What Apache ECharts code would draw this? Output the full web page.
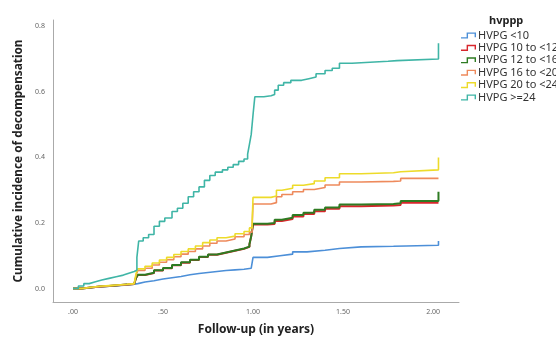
<!DOCTYPE html>
<html>
<head>
<meta charset="utf-8">
<script src="https://cdn.jsdelivr.net/npm/echarts@6/dist/echarts.min.js"></script>
<style>
  html, body { margin: 0; padding: 0; background: #fff; }
  #chart { width: 556px; height: 341px; }
</style>
</head>
<body>
<div id="chart"></div>
<script>
// group names (legend order)
const groupNames = ['HVPG <10', 'HVPG 10 to <12', 'HVPG 12 to <16', 'HVPG 16 to <20', 'HVPG 20 to <24', 'HVPG >=24']
const groupColors = ['#4c8fd8', '#d8262c', '#2e7b22', '#ee8a5c', '#eddb2a', '#3fb5a6']

// cumulative incidence step curves, [years, incidence]
const hvpgLt10 = [
  [0, 0], [0.05, 0.003], [0.1, 0.005], [0.15, 0.007], [0.2, 0.009], [0.25, 0.011], [0.3, 0.013],
  [0.34, 0.015], [0.36, 0.02], [0.4, 0.024], [0.45, 0.029], [0.5, 0.033], [0.55, 0.037], [0.6, 0.042],
  [0.65, 0.046], [0.7, 0.049], [0.75, 0.052], [0.8, 0.055], [0.85, 0.057], [0.9, 0.059], [0.95, 0.062],
  [0.99, 0.064], [1.0, 0.095], [1.08, 0.1], [1.15, 0.105], [1.22, 0.112], [1.3, 0.117], [1.4, 0.122],
  [1.48, 0.127], [1.6, 0.129], [1.78, 0.13], [1.85, 0.132], [2.03, 0.134], [2.03, 0.145]
]
const hvpg10to12 = [
  [0, 0], [0.05, 0.003], [0.1, 0.006], [0.15, 0.008], [0.2, 0.01], [0.25, 0.012], [0.3, 0.014],
  [0.34, 0.017], [0.35, 0.032], [0.36, 0.041], [0.4, 0.047], [0.45, 0.055], [0.5, 0.062], [0.55, 0.071],
  [0.6, 0.079], [0.65, 0.087], [0.7, 0.096], [0.75, 0.103], [0.8, 0.109], [0.85, 0.115], [0.9, 0.121],
  [0.95, 0.127], [0.98, 0.134], [0.99, 0.16], [1.0, 0.195], [1.08, 0.197], [1.12, 0.206], [1.16, 0.212],
  [1.22, 0.22], [1.28, 0.227], [1.34, 0.236], [1.4, 0.243], [1.48, 0.251], [1.6, 0.253], [1.78, 0.255],
  [1.82, 0.262], [2.03, 0.263]
]
const hvpg12to16 = [
  [0, 0], [0.05, 0.003], [0.1, 0.006], [0.15, 0.008], [0.2, 0.01], [0.25, 0.012], [0.3, 0.014],
  [0.34, 0.017], [0.35, 0.032], [0.36, 0.042], [0.4, 0.048], [0.45, 0.056], [0.5, 0.063], [0.55, 0.072],
  [0.6, 0.08], [0.65, 0.088], [0.7, 0.097], [0.75, 0.104], [0.8, 0.11], [0.85, 0.116], [0.9, 0.122],
  [0.95, 0.128], [0.98, 0.135], [0.99, 0.16], [1.0, 0.198], [1.08, 0.2], [1.12, 0.21], [1.16, 0.216],
  [1.22, 0.224], [1.28, 0.231], [1.34, 0.24], [1.4, 0.247], [1.48, 0.256], [1.6, 0.258], [1.78, 0.26],
  [1.82, 0.267], [2.03, 0.27], [2.03, 0.295]
]
const hvpg16to20 = [
  [0, 0], [0.05, 0.003], [0.1, 0.006], [0.15, 0.008], [0.2, 0.01], [0.25, 0.012], [0.3, 0.014],
  [0.34, 0.016], [0.35, 0.04], [0.36, 0.055], [0.4, 0.062], [0.44, 0.072], [0.48, 0.08], [0.52, 0.088],
  [0.56, 0.097], [0.6, 0.105], [0.64, 0.113], [0.68, 0.121], [0.72, 0.13], [0.76, 0.138], [0.8, 0.145],
  [0.85, 0.151], [0.9, 0.158], [0.95, 0.165], [0.98, 0.172], [0.995, 0.19], [1.0, 0.258], [1.1, 0.262],
  [1.13, 0.28], [1.16, 0.287], [1.22, 0.295], [1.28, 0.302], [1.34, 0.308], [1.4, 0.316], [1.48, 0.325],
  [1.6, 0.327], [1.78, 0.328], [1.82, 0.336], [2.03, 0.338]
]
const hvpg20to24 = [
  [0, 0], [0.05, 0.004], [0.1, 0.007], [0.15, 0.009], [0.2, 0.011], [0.25, 0.013], [0.3, 0.015],
  [0.34, 0.018], [0.35, 0.045], [0.36, 0.06], [0.4, 0.068], [0.44, 0.078], [0.48, 0.087], [0.52, 0.095],
  [0.56, 0.104], [0.6, 0.113], [0.64, 0.121], [0.68, 0.13], [0.72, 0.14], [0.76, 0.148], [0.8, 0.155],
  [0.85, 0.16], [0.9, 0.167], [0.95, 0.174], [0.98, 0.185], [0.995, 0.2], [1.0, 0.278], [1.1, 0.282],
  [1.13, 0.3], [1.16, 0.306], [1.22, 0.315], [1.28, 0.32], [1.34, 0.328], [1.4, 0.338], [1.48, 0.35],
  [1.6, 0.353], [1.78, 0.356], [1.82, 0.362], [2.03, 0.365], [2.03, 0.4]
]
const hvpgGe24 = [
  [0, 0], [0.03, 0.008], [0.06, 0.015], [0.09, 0.02], [0.12, 0.026], [0.16, 0.031], [0.2, 0.036],
  [0.24, 0.041], [0.28, 0.047], [0.31, 0.052], [0.34, 0.056], [0.355, 0.095], [0.365, 0.145],
  [0.39, 0.155], [0.42, 0.165], [0.45, 0.19], [0.48, 0.205], [0.51, 0.215], [0.55, 0.235], [0.58, 0.245],
  [0.61, 0.26], [0.64, 0.28], [0.67, 0.295], [0.7, 0.31], [0.73, 0.33], [0.76, 0.345], [0.79, 0.355],
  [0.83, 0.362], [0.86, 0.37], [0.89, 0.378], [0.92, 0.388], [0.95, 0.395], [0.97, 0.41], [0.98, 0.44],
  [0.99, 0.47], [1.0, 0.53], [1.01, 0.585], [1.06, 0.588], [1.1, 0.592], [1.12, 0.605], [1.14, 0.62],
  [1.17, 0.628], [1.21, 0.635], [1.27, 0.64], [1.31, 0.645], [1.35, 0.655], [1.4, 0.665], [1.44, 0.672],
  [1.48, 0.687], [1.55, 0.69], [1.65, 0.693], [1.75, 0.695], [1.8, 0.7], [2.03, 0.702], [2.03, 0.748]
]
const curves = [hvpgLt10, hvpg10to12, hvpg12to16, hvpg16to20, hvpg20to24, hvpgGe24]

const xTicks = [0, 0.5, 1, 1.5, 2]
const yTicks = [0, 0.2, 0.4, 0.6, 0.8]

const font = 'Noto Sans'
// little step-shaped legend icon
const stepIcon = 'path://M0,5 L6,5 L6,0 L16,0 L16,5 L14.5,5 L14.5,1.5 L7.5,1.5 L7.5,6.5 L0,6.5 Z'

const chart = echarts.init(document.getElementById('chart'))

chart.setOption({
  animation: false,
  title: {
    text: 'hvppp',
    left: 489,
    top: 15,
    padding: 0,
    textStyle: {fontFamily: font, fontSize: 11, fontWeight: 'bold', color: '#222'}
  },
  legend: {
    orient: 'vertical',
    left: 461,
    top: 30,
    padding: 0,
    itemWidth: 15,
    itemHeight: 7,
    itemGap: 1.4,
    icon: stepIcon,
    textStyle: {fontFamily: font, fontSize: 11, lineHeight: 9.6, color: '#333', padding: [0, 0, 0, -3]},
    data: groupNames
  },
  grid: {left: 53, right: 97, top: 20, bottom: 39},
  xAxis: {
    type: 'value',
    min: -0.111,
    max: 2.144,
    name: 'Follow-up (in years)',
    nameLocation: 'middle',
    nameGap: 22,
    nameTextStyle: {fontFamily: font, fontSize: 12, fontWeight: 'bold', color: '#222'},
    axisLine: {show: true, onZero: false, lineStyle: {color: '#aaa', width: 1}},
    axisTick: {show: false},
    splitLine: {show: false},
    axisLabel: {
      customValues: xTicks,
      fontFamily: font, fontSize: 7, color: '#666', margin: 6,
      formatter: v => v.toFixed(2).replace(/^0/, '')
    }
  },
  yAxis: {
    type: 'value',
    min: -0.041,
    max: 0.819,
    name: 'Cumulative incidence of decompensation',
    nameLocation: 'middle',
    nameGap: 23,
    nameTextStyle: {fontFamily: font, fontSize: 11.8, fontWeight: 'bold', color: '#222'},
    axisLine: {show: true, onZero: false, lineStyle: {color: '#aaa', width: 1}},
    axisTick: {show: false},
    splitLine: {show: false},
    axisLabel: {
      customValues: yTicks,
      fontFamily: font, fontSize: 7, color: '#666', margin: 8,
      formatter: v => v.toFixed(1)
    }
  },
  series: curves.map((d, i) => ({
    name: groupNames[i],
    type: 'line',
    step: 'end',
    data: d,
    showSymbol: false,
    symbol: 'none',
    color: groupColors[i],
    lineStyle: {width: i === 1 || i === 2 ? 2 : 1.6, color: groupColors[i]}
  }))
})
</script>
</body>
</html>
